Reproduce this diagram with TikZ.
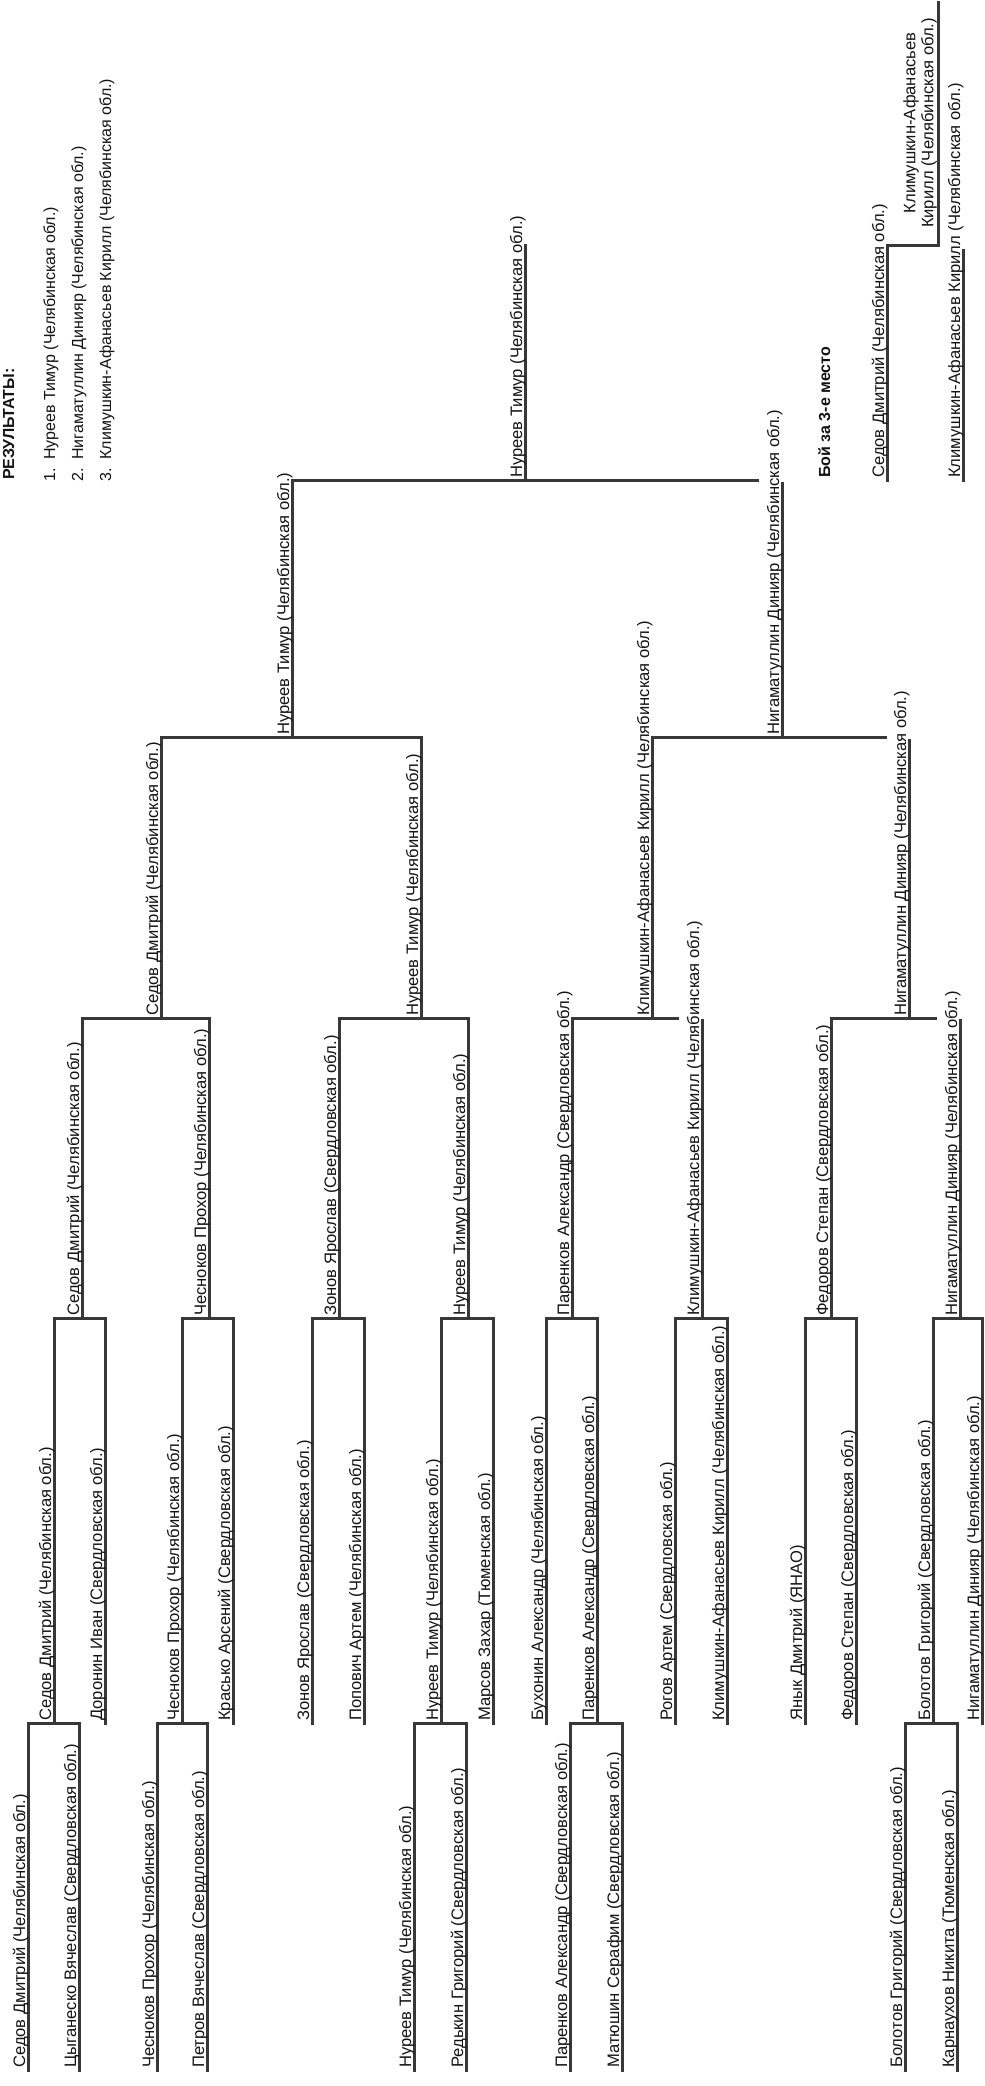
\documentclass[tikz,border=0pt]{standalone}
\usepackage{fontspec}
\setmainfont{Liberation Sans}
\tikzset{
  brl/.style={line width=3pt, draw=black!78, line cap=rect},
  lbl/.style={rotate=90, anchor=base west, inner sep=0pt, font=\fontsize{16.6}{19}\selectfont, text=black!92},
  reslbl/.style={rotate=90, anchor=base west, inner sep=0pt, font=\fontsize{16}{19}\selectfont, text=black!92},
}
% id, x, y-bottom, y-top, text
\newcommand\brkent[5]{%
  \coordinate (#1b) at (#2,#3);
  \coordinate (#1t) at (#2,#4);
  \draw[brl] (#1b) -- (#1t);
  \node[lbl] (#1) at ({#2-3},{#3-2}) {#5};
}
\begin{document}
\begin{tikzpicture}[x=1pt,y=-1pt]
\useasboundingbox (0,0) rectangle (985,2086);
\fill[white] (0,0) rectangle (985,2086);
\clip (0,0) rectangle (985,2086);

% results
\node[reslbl, font=\fontsize{16}{19}\selectfont\bfseries] (res) at (14,480) {РЕЗУЛЬТАТЫ:};
\node[reslbl] (res1) at (55,482) {1.\ \ Нуреев Тимур (Челябинская обл.)};
\node[reslbl] (res2) at (83,482) {2.\ \ Нигаматуллин Динияр (Челябинская обл.)};
\node[reslbl] (res3) at (111,482) {3.\ \ Климушкин-Афанасьев Кирилл (Челябинская обл.)};

% preliminary
\brkent{p1}{28}{2070}{1723}{Седов Дмитрий (Челябинская обл.)}
\brkent{p2}{79}{2070}{1723}{Цыганеско Вячеслав (Свердловская обл.)}
\brkent{p3}{157}{2070}{1723}{Чесноков Прохор (Челябинская обл.)}
\brkent{p4}{207}{2070}{1723}{Петров Вячеслав (Свердловская обл.)}
\brkent{p5}{414}{2070}{1723}{Нуреев Тимур (Челябинская обл.)}
\brkent{p6}{466}{2070}{1723}{Редькин Григорий (Свердловская обл.)}
\brkent{p7}{570}{2070}{1723}{Паренков Александр (Свердловская обл.)}
\brkent{p8}{622}{2070}{1723}{Матюшин Серафим (Свердловская обл.)}
\brkent{p9}{905}{2070}{1723}{Болотов Григорий (Свердловская обл.)}
\brkent{p10}{957}{2070}{1723}{Карнаухов Никита (Тюменская обл.)}
\draw[brl] (p1t) -- (p2t);
\draw[brl] (p3t) -- (p4t);
\draw[brl] (p5t) -- (p6t);
\draw[brl] (p7t) -- (p8t);
\draw[brl] (p9t) -- (p10t);

% round 1
\brkent{r1}{54}{1723}{1318}{Седов Дмитрий (Челябинская обл.)}
\brkent{r2}{105}{1723}{1318}{Доронин Иван (Свердловская обл.)}
\brkent{r3}{182}{1723}{1318}{Чесноков Прохор (Челябинская обл.)}
\brkent{r4}{233}{1723}{1318}{Красько Арсений (Свердловская обл.)}
\brkent{r5}{312}{1723}{1318}{Зонов Ярослав (Свердловская обл.)}
\brkent{r6}{364}{1723}{1318}{Попович Артем (Челябинская обл.)}
\brkent{r7}{441}{1723}{1318}{Нуреев Тимур (Челябинская обл.)}
\brkent{r8}{493}{1723}{1318}{Марсов Захар (Тюменская обл.)}
\brkent{r9}{546}{1723}{1318}{Бухонин Александр (Челябинская обл.)}
\brkent{r10}{597}{1723}{1318}{Паренков Александр (Свердловская обл.)}
\brkent{r11}{675}{1723}{1318}{Рогов Артем (Свердловская обл.)}
\brkent{r12}{727}{1723}{1318}{Климушкин-Афанасьев Кирилл (Челябинская обл.)}
\brkent{r13}{805}{1723}{1318}{Янык Дмитрий (ЯНАО)}
\brkent{r14}{856}{1723}{1318}{Федоров Степан (Свердловская обл.)}
\brkent{r15}{933}{1723}{1318}{Болотов Григорий (Свердловская обл.)}
\brkent{r16}{982}{1723}{1318}{Нигаматуллин Динияр (Челябинская обл.)}
\draw[brl] (r1t) -- (r2t);
\draw[brl] (r3t) -- (r4t);
\draw[brl] (r5t) -- (r6t);
\draw[brl] (r7t) -- (r8t);
\draw[brl] (r9t) -- (r10t);
\draw[brl] (r11t) -- (r12t);
\draw[brl] (r13t) -- (r14t);
\draw[brl] (r15t) -- (r16t);

% quarter-finals
\brkent{q1}{82}{1318}{1018}{Седов Дмитрий (Челябинская обл.)}
\brkent{q2}{209}{1318}{1018}{Чесноков Прохор (Челябинская обл.)}
\brkent{q3}{339}{1318}{1018}{Зонов Ярослав (Свердловская обл.)}
\brkent{q4}{468}{1318}{1018}{Нуреев Тимур (Челябинская обл.)}
\brkent{q5}{572}{1318}{1018}{Паренков Александр (Свердловская обл.)}
\brkent{q6}{702}{1318}{1020}{Климушкин-Афанасьев Кирилл (Челябинская обл.)}
\brkent{q7}{831}{1318}{1018}{Федоров Степан (Свердловская обл.)}
\brkent{q8}{960}{1318}{1020}{Нигаматуллин Динияр (Челябинская обл.)}
\coordinate (q6e) at (677,1018);
\coordinate (q8e) at (935,1018);
\draw[brl] (q1t) -- (q2t);
\draw[brl] (q3t) -- (q4t);
\draw[brl] (q5t) -- (q6e);
\draw[brl] (q7t) -- (q8e);

% semi-finals
\brkent{s1}{161}{1018}{737}{Седов Дмитрий (Челябинская обл.)}
\brkent{s2}{421}{1018}{737}{Нуреев Тимур (Челябинская обл.)}
\brkent{s3}{652}{1018}{737}{Климушкин-Афанасьев Кирилл (Челябинская обл.)}
\brkent{s4}{909}{1018}{740}{Нигаматуллин Динияр (Челябинская обл.)}
\coordinate (s4e) at (885,737);
\draw[brl] (s1t) -- (s2t);
\draw[brl] (s3t) -- (s4e);

% final
\brkent{f1}{292}{737}{480}{Нуреев Тимур (Челябинская обл.)}
\brkent{f2}{782}{737}{483}{Нигаматуллин Динияр (Челябинская обл.)}
\coordinate (f2e) at (757,480);
\draw[brl] (f1t) -- (f2e);

% winner
\brkent{w}{525}{480}{245}{Нуреев Тимур (Челябинская обл.)}

% third place
\node[reslbl, font=\fontsize{16}{19}\selectfont\bfseries] (third) at (830,478) {Бой за 3-е место};
\brkent{t1}{887}{480}{245}{Седов Дмитрий (Челябинская обл.)}
\brkent{t2}{963}{480}{250}{Климушкин-Афанасьев Кирилл (Челябинская обл.)}
\coordinate (t2e) at (938,245);
\draw[brl] (t1t) -- (t2e);
\coordinate (twb) at (938,245);
\coordinate (twt) at (938,2);
\draw[brl] (twb) -- (twt);
\node[rotate=90, anchor=south, inner sep=0pt, align=center, font=\fontsize{16.6}{18}\selectfont, text=black!92] (tw) at (937,123) {Климушкин-Афанасьев\\Кирилл (Челябинская обл.)};
\end{tikzpicture}
\end{document}
